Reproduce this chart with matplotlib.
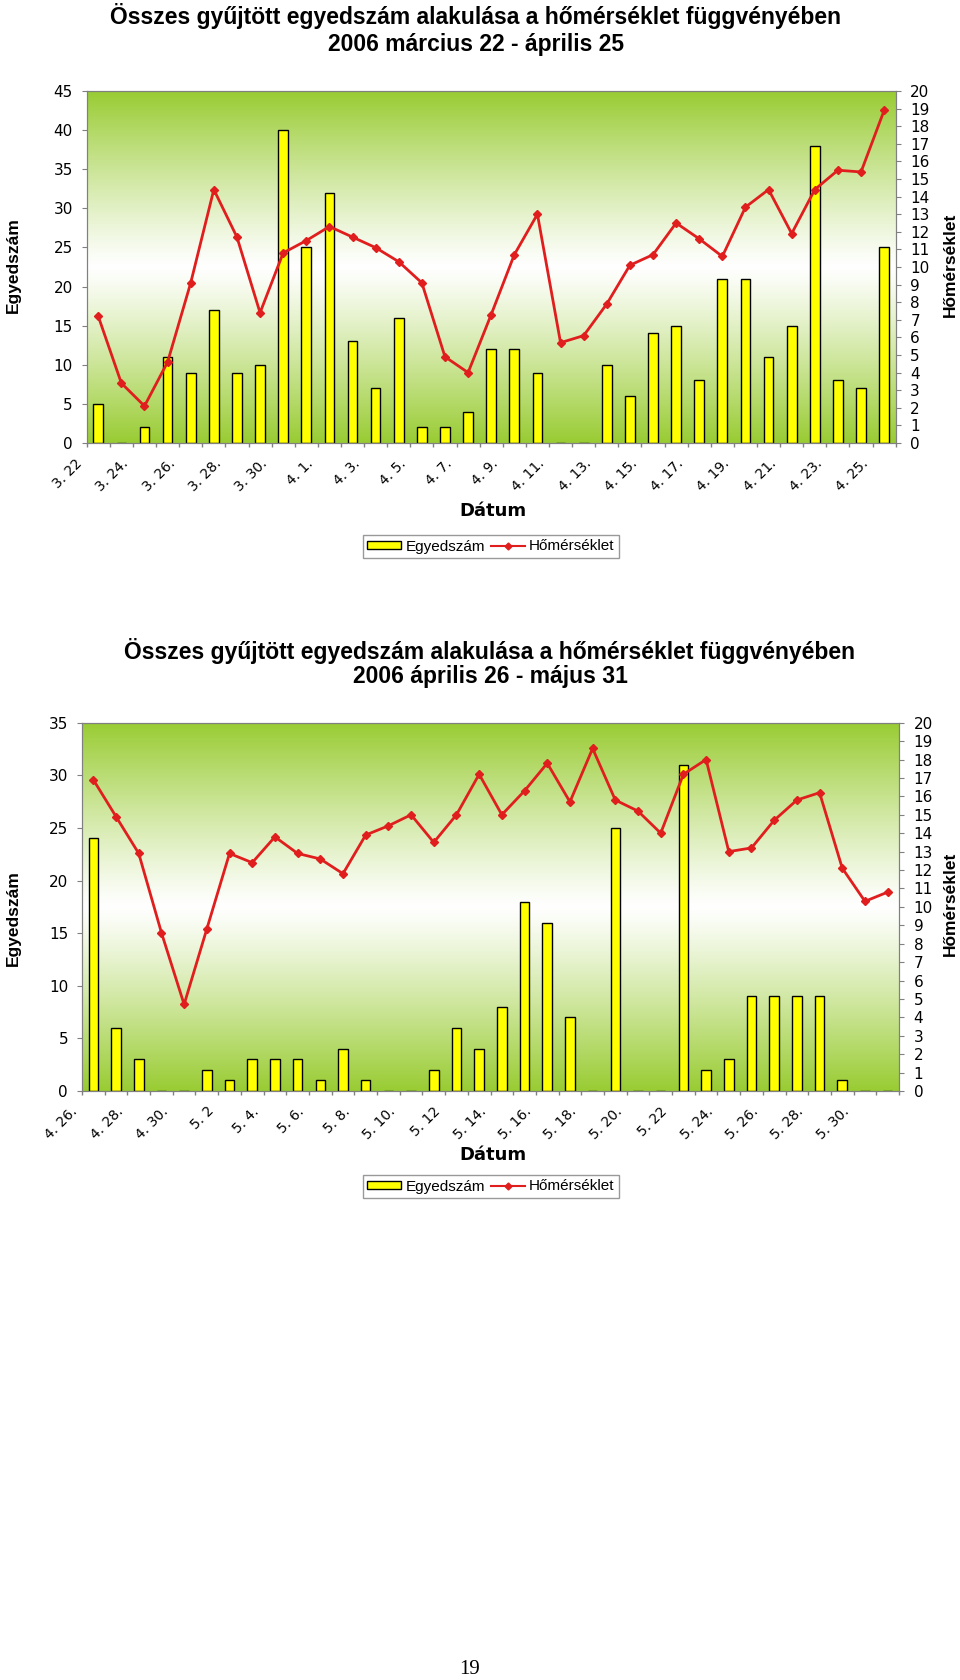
import numpy as np
import matplotlib.pyplot as plt
from matplotlib.patches import Patch
from matplotlib.lines import Line2D
from matplotlib.colors import to_rgb
from matplotlib.transforms import ScaledTranslation

# adatok: 2006. március 22 - április 25
counts1 = [5, 0, 2, 11, 9, 17, 9, 10, 40, 25, 32, 13, 7, 16, 2, 2, 4, 12, 12, 9,
           0, 0, 10, 6, 14, 15, 8, 21, 21, 11, 15, 38, 8, 7, 25]
temps1 = [7.2, 3.4, 2.1, 4.6, 9.1, 14.4, 11.7, 7.4, 10.8, 11.5, 12.3, 11.7, 11.1, 10.3, 9.1,
          4.9, 4.0, 7.3, 10.7, 13.0, 5.7, 6.1, 7.9, 10.1, 10.7, 12.5, 11.6, 10.6, 13.4, 14.4,
          11.9, 14.4, 15.5, 15.4, 18.9]
labels1 = ['3. 22', '3. 24.', '3. 26.', '3. 28.', '3. 30.', '4. 1.', '4. 3.', '4. 5.', '4. 7.',
           '4. 9.', '4. 11.', '4. 13.', '4. 15.', '4. 17.', '4. 19.', '4. 21.', '4. 23.', '4. 25.']

# adatok: 2006. április 26 - május 31
counts2 = [24, 6, 3, 0, 0, 2, 1, 3, 3, 3, 1, 4, 1, 0, 0, 2, 6, 4, 8, 18,
           16, 7, 0, 25, 0, 0, 31, 2, 3, 9, 9, 9, 9, 1, 0, 0]
temps2 = [16.9, 14.9, 12.9, 8.6, 4.7, 8.8, 12.9, 12.4, 13.8, 12.9, 12.6, 11.8, 13.9, 14.4, 15.0,
          13.5, 15.0, 17.2, 15.0, 16.3, 17.8, 15.7, 18.6, 15.8, 15.2, 14.0, 17.2, 18.0, 13.0, 13.2,
          14.7, 15.8, 16.2, 12.1, 10.3, 10.8]
labels2 = ['4. 26.', '4. 28.', '4. 30.', '5. 2', '5. 4.', '5. 6.', '5. 8.', '5. 10.', '5. 12',
           '5. 14.', '5. 16.', '5. 18.', '5. 20.', '5. 22', '5. 24.', '5. 26.', '5. 28.', '5. 30.']

title = 'Összes gyűjtött egyedszám alakulása a hőmérséklet függvényében'
sub1 = '2006 március 22 - április 25'
sub2 = '2006 április 26 - május 31'

RED = '#E01E1E'
YELLOW = '#FFFF00'
GREEN = '#99CC33'
GRAY = '#808080'
W, H = 960, 1680

fig = plt.figure(figsize=(9.6, 16.8), dpi=100)


def px(x, y):
    return x / W, 1 - y / H


def chart(left, top, right, bottom, counts, temps, labels, ymax):
    x0, y0 = px(left, bottom)
    x1, y1 = px(right, top)
    ax = fig.add_axes([x0, y0, x1 - x0, y1 - y0])
    n = len(counts)
    x = np.arange(n)

    # háttér színátmenet: zöld - fehér - zöld
    t = np.linspace(0, 1, 256)[:, None]
    w = np.abs(2 * t - 1) ** 1.15
    g = np.array(to_rgb(GREEN))
    img = (1 - w)[..., None] * np.ones(3) + w[..., None] * g
    ax.imshow(img, extent=[0, 1, 0, 1], transform=ax.transAxes, aspect='auto',
              zorder=0, interpolation='bilinear')

    ax.bar(x, counts, width=0.42, color=YELLOW, edgecolor='black', linewidth=1, zorder=2)
    ax.set_xlim(-0.5, n - 0.5)
    ax.set_ylim(0, ymax)
    ax.set_yticks(np.arange(0, ymax + 1, 5))
    ax.set_xticks(np.arange(-0.5, n, 1), minor=True)
    ax.set_xticks(x[::2])
    ax.set_xticklabels(labels, rotation=45, ha='right', va='center', rotation_mode='anchor')
    ax.tick_params(axis='x', which='major', length=0, pad=13, labelsize=10)
    ax.tick_params(axis='x', which='minor', length=3, color=GRAY, width=1)
    ax.tick_params(axis='y', length=3.5, color=GRAY, pad=6.5, labelsize=11)
    for lab in ax.get_xticklabels():
        lab.set_transform(lab.get_transform() + ScaledTranslation(-0.18, 0, fig.dpi_scale_trans))
    for s in ax.spines.values():
        s.set_color(GRAY)

    ax2 = ax.twinx()
    ax2.plot(x, temps, color=RED, lw=2, marker='D', ms=4, zorder=3)
    ax2.set_ylim(0, 20)
    ax2.set_yticks(range(21))
    ax2.tick_params(axis='y', length=3.5, color=GRAY, pad=7, labelsize=11)
    for s in ax2.spines.values():
        s.set_color(GRAY)
    return ax, ax2


def legend(cy):
    handles = [Patch(facecolor=YELLOW, edgecolor='black', label='Egyedszám'),
               Line2D([], [], color=RED, lw=1.5, marker='D', ms=3.5, label='Hőmérséklet')]
    fig.legend(handles=handles, loc='center', bbox_to_anchor=px(491, cy), ncol=2,
               frameon=True, fancybox=False, edgecolor='#999999', framealpha=1,
               prop={'family': 'Liberation Sans', 'size': 11}, handlelength=2.2,
               handleheight=0.5, handletextpad=0.3, columnspacing=0.4, borderpad=0.3)


def texts(tx, t1y, t2y, cy, datum_y, ey, hy):
    fig.text(*px(tx, t1y), title, ha='center', va='center', fontsize=16.5,
             fontweight='bold', family='Liberation Sans')
    fig.text(*px(tx, t2y), cy, ha='center', va='center', fontsize=16.5,
             fontweight='bold', family='Liberation Sans')
    fig.text(*px(493, datum_y), 'Dátum', ha='center', va='center', fontsize=13,
             fontweight='bold')
    fig.text(*px(13, ey), 'Egyedszám', ha='center', va='center', rotation=90,
             fontsize=12.5, fontweight='bold', family='Liberation Sans')
    fig.text(*px(950, hy), 'Hőmérséklet', ha='center', va='center', rotation=90,
             fontsize=12.5, fontweight='bold', family='Liberation Sans')


chart(86.7, 91, 895.7, 443, counts1, temps1, labels1, 45)
texts(476, 16, 44, sub1, 511, 265, 265)
legend(546.5)

chart(82, 722.7, 899, 1091, counts2, temps2, labels2, 35)
texts(490, 651, 677, sub2, 1155, 918, 904)
legend(1186.5)

fig.text(*px(470, 1670), '19', ha='center', va='center', fontsize=15, family='Liberation Serif')

fig.savefig('out.png', dpi=100)
